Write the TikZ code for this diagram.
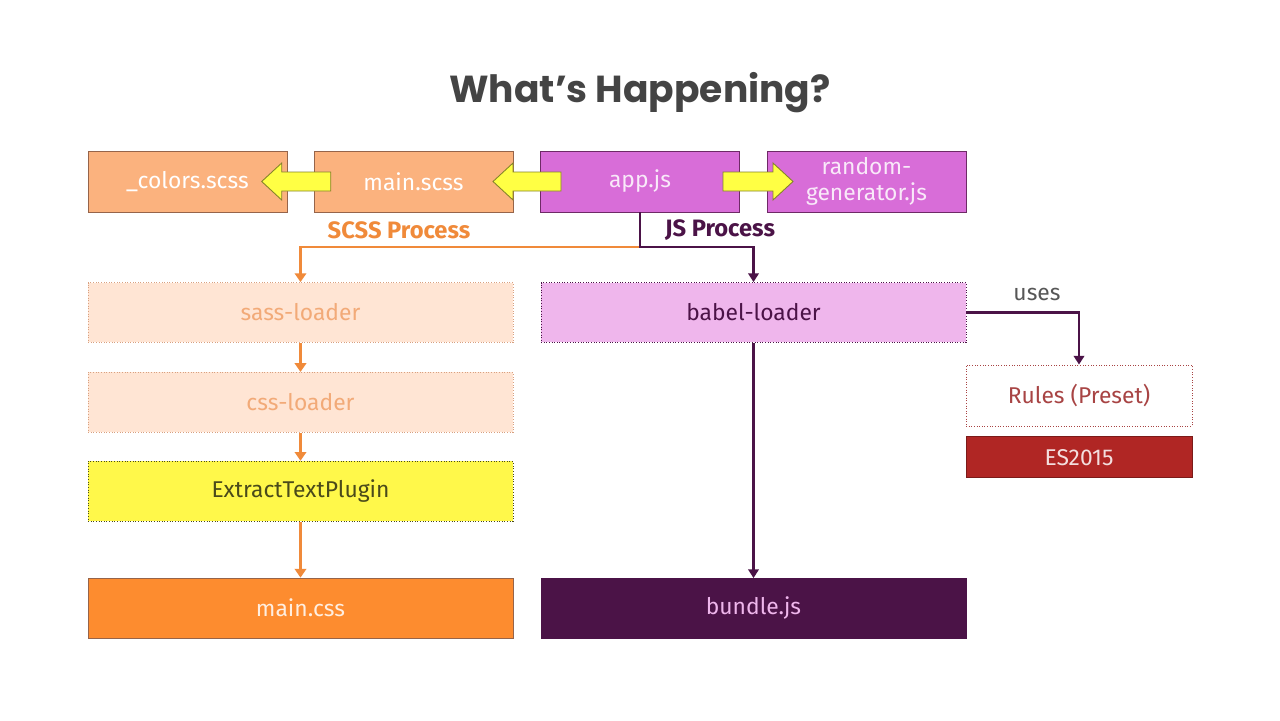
\documentclass[tikz,border=0pt]{standalone}
\usepackage{fontspec}
\setmainfont{Fira Sans}
\newfontfamily\titlefont{Poppins}
\usetikzlibrary{positioning,arrows.meta}
\definecolor{scssfill}{HTML}{FBB27E}
\definecolor{scssedge}{HTML}{96644A}
\definecolor{jsfill}{HTML}{D86DD8}
\definecolor{jsedge}{HTML}{6E2A66}
\definecolor{fatyellow}{HTML}{FFFF44}
\definecolor{fatedge}{HTML}{84842A}
\definecolor{loaderfill}{HTML}{FFE5D4}
\definecolor{loaderedge}{HTML}{D8A080}
\definecolor{loadertext}{HTML}{F2AA78}
\definecolor{pluginfill}{HTML}{FFF84A}
\definecolor{plugintext}{HTML}{4A4A1A}
\definecolor{cssfill}{HTML}{FD8C2F}
\definecolor{babelfill}{HTML}{EFB6EC}
\definecolor{deeppurple}{HTML}{4B1347}
\definecolor{rulered}{HTML}{B02624}
\definecolor{ruletext}{HTML}{A84444}
\definecolor{lineorange}{HTML}{F08A3A}
\definecolor{titlegray}{HTML}{444444}

\begin{document}
\begin{tikzpicture}[x=0.02cm,y=-0.02cm,
  filebox/.style={draw=scssedge, line width=0.5pt, minimum width=3.98cm, minimum height=1.22cm,
    inner sep=0pt, align=center, font=\fontsize{13}{15}\selectfont},
  widebox/.style={filebox, minimum width=8.5cm, minimum height=1.2cm},
  loaderbox/.style={widebox, densely dotted, draw=loaderedge, fill=loaderfill, text=loadertext},
  orangeline/.style={draw=lineorange, line width=1.7pt, -{Triangle[length=5pt,width=6.5pt]}},
  purpleline/.style={draw=deeppurple, line width=1.4pt, -{Triangle[length=5pt,width=6pt]}},
  fatarrow/.style={fill=fatyellow, draw=fatedge, line width=0.5pt, line join=miter},
  process/.style={font=\fontsize{13.5}{15}\selectfont\bfseries}]
\useasboundingbox[fill=white] (0,0) rectangle (1280,720);

\node[text=titlegray, font=\titlefont\fontsize{21.4}{24}\selectfont\bfseries] (title) at (640,93) {What’s Happening?};

% top row of files
\node[filebox, fill=scssfill, text=white] (colors) at (187.5,181.5) {\_colors.scss};
\node[filebox, fill=scssfill, text=white] (mainscss) at (413.5,181.5) {main.scss};
\node[filebox, fill=jsfill, draw=jsedge, text=white!85!jsfill] (app) at (640,181.5) {app.js};
\node[filebox, fill=jsfill, draw=jsedge, text=white!85!jsfill] (random) at (866.5,181.5) {random-\\generator.js};

% imports
\draw[fatarrow] (330.7,172) -- (281.7,172) -- (281.7,163) -- (261.7,181.5) -- (281.7,200) -- (281.7,191) -- (330.7,191) -- cycle;
\draw[fatarrow] (561,172) -- (513,172) -- (513,163) -- (493,181.5) -- (513,200) -- (513,191) -- (561,191) -- cycle;
\draw[fatarrow] (723,172) -- (773,172) -- (773,163) -- (793,181.5) -- (773,200) -- (773,191) -- (723,191) -- cycle;

\node[process, text=lineorange] (scsslbl) at (399,230) {SCSS Process};
\node[process, text=deeppurple] (jslbl) at (720,230) {JS Process};

% loaders
\node[loaderbox] (sass) at (300.5,312.5) {sass-loader};
\node[loaderbox, below=0.58cm of sass] (css) {css-loader};
\node[widebox, densely dotted, draw=plugintext, fill=pluginfill, text=plugintext, below=0.56cm of css] (extract) {ExtractTextPlugin};
\node[widebox, fill=cssfill, draw=scssedge, text=white!85!cssfill, below=1.12cm of extract] (maincss) {main.css};

\node[widebox, densely dotted, draw=deeppurple, fill=babelfill, text=deeppurple] (babel) at (753.5,312.5) {babel-loader};
\node[widebox, fill=deeppurple, draw=deeppurple, text=babelfill] (bundle) at (753.5,608.5) {bundle.js};

\node[filebox, minimum width=4.52cm, densely dotted, draw=ruletext, fill=white, text=ruletext] (rules) at (1079,395.5) {Rules (Preset)};
\node[filebox, minimum width=4.52cm, minimum height=0.82cm, draw=rulered!70!black, fill=rulered, text=white!85!rulered, below=0.2cm of rules] (es) {ES2015};
\node[text=titlegray!90, font=\fontsize{13}{15}\selectfont] (uses) at (1037,294) {uses};

% connectors
\coordinate (fork) at (640,247);
\draw[orangeline] (fork) -| (sass.north);
\draw[purpleline] (app.south) -- (fork) -| (babel.north);
\draw[orangeline] (sass) -- (css);
\draw[orangeline] (css) -- (extract);
\draw[orangeline] (extract) -- (maincss);
\draw[purpleline] (babel) -- (bundle);
\draw[purpleline] (babel.east) -| (rules.north);
\end{tikzpicture}
\end{document}
